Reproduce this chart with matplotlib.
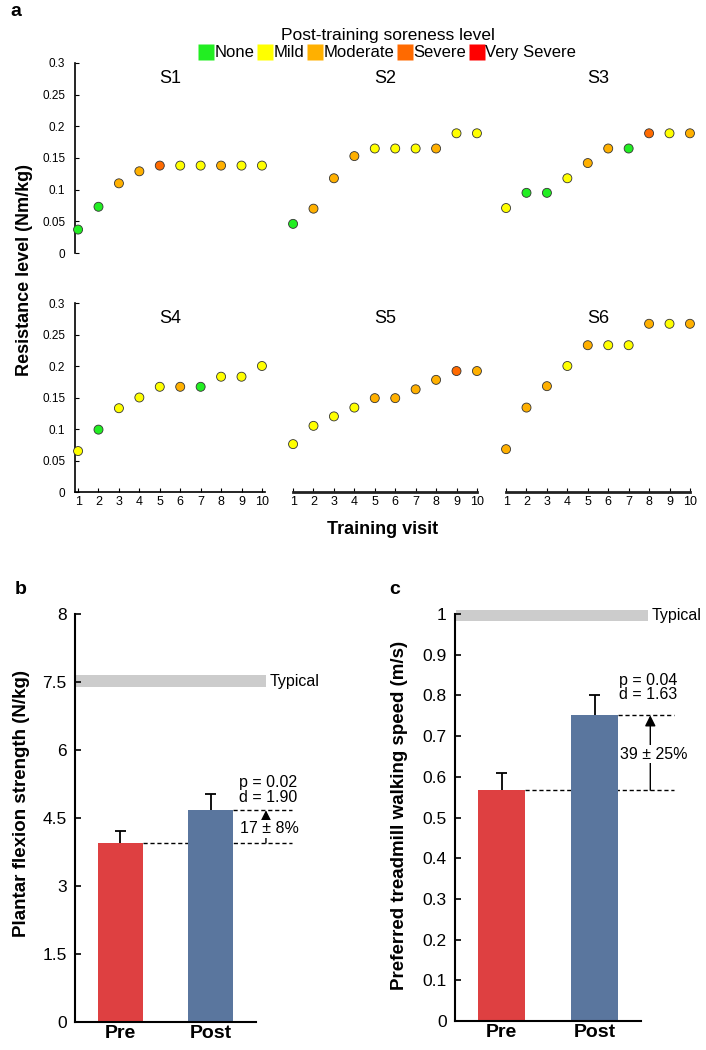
"""
Resistance progression per participant plus pre/post strength and walking speed.
"""
import matplotlib.pyplot as plt
from matplotlib.lines import Line2D
import numpy as np


################################################################################
# SETUP
################################################################################

plt.rcParams["font.family"] = ["Liberation Sans", "DejaVu Sans"]

visits = list(range(1, 11))
subjects = ["S1", "S2", "S3", "S4", "S5", "S6"]

# Resistance level (Nm/kg) per training visit.
s1_res = [0.037, 0.073, 0.110, 0.129, 0.138, 0.138, 0.138, 0.138, 0.138, 0.138]
s2_res = [0.046, 0.070, 0.118, 0.153, 0.165, 0.165, 0.165, 0.165, 0.189, 0.189]
s3_res = [0.071, 0.095, 0.095, 0.118, 0.142, 0.165, 0.165, 0.189, 0.189, 0.189]
s4_res = [0.065, 0.099, 0.133, 0.150, 0.167, 0.167, 0.167, 0.183, 0.183, 0.200]
s5_res = [0.076, 0.105, 0.120, 0.134, 0.149, 0.149, 0.163, 0.178, 0.192, 0.192]
s6_res = [0.068, 0.134, 0.168, 0.200, 0.233, 0.233, 0.233, 0.267, 0.267, 0.267]

# Post-training soreness (0=None ... 4=Very Severe).
s1_sore = [0, 0, 2, 2, 3, 1, 1, 2, 1, 1]
s2_sore = [0, 2, 2, 2, 1, 1, 1, 2, 1, 1]
s3_sore = [1, 0, 0, 1, 2, 2, 0, 3, 1, 2]
s4_sore = [1, 0, 1, 1, 1, 2, 0, 1, 1, 1]
s5_sore = [1, 1, 1, 1, 2, 2, 2, 2, 3, 2]
s6_sore = [2, 2, 2, 1, 2, 1, 1, 2, 1, 2]

sore_labels = ["None", "Mild", "Moderate", "Severe", "Very Severe"]
sore_colors = ["#22ee22", "#ffff00", "#ffb000", "#ff6a00", "#ff0000"]

res_all = [s1_res, s2_res, s3_res, s4_res, s5_res, s6_res]
sore_all = [s1_sore, s2_sore, s3_sore, s4_sore, s5_sore, s6_sore]

# Pre/post outcomes.
conditions = ["Pre", "Post"]
strength_mean = [3.95, 4.67]
strength_err = [0.27, 0.36]
strength_typical = [7.38, 7.65]
speed_mean = [0.567, 0.751]
speed_err = [0.043, 0.049]
speed_typical = [0.983, 1.01]
bar_colors = ["#de4041", "#5a769e"]


################################################################################
# PANEL A
################################################################################

fig = plt.figure(figsize=(7.06, 10.5), dpi=100)

W, H = 706, 1050
lefts = [75, 290, 503]
width = 190
rows = [(253, 190), (492, 189)]  # (bottom px, height px)

narrow = ["Liberation Sans Narrow", "Liberation Sans", "DejaVu Sans"]

for i, name in enumerate(subjects):
    r, c = divmod(i, 3)
    bot, hgt = rows[r]
    ax = fig.add_axes([lefts[c] / W, 1 - bot / H, width / W, hgt / H])
    colors = [sore_colors[s] for s in sore_all[i]]
    ax.scatter(visits, res_all[i], s=42, c=colors, edgecolors="#333333",
               linewidths=0.6, zorder=3, clip_on=False)
    ax.set_xlim(0.85, 10.15)
    ax.set_ylim(0, 0.3)
    ax.text(0.5, 0.92, name, transform=ax.transAxes, ha="center", va="center",
            fontsize=13, family=narrow)
    for s in ["top", "right"]:
        ax.spines[s].set_visible(False)
    if c == 0:
        ax.spines["left"].set_linewidth(1.2)
        ax.set_yticks(np.arange(0, 0.31, 0.05))
        ax.set_yticklabels(["0", "0.05", "0.1", "0.15", "0.2", "0.25", "0.3"],
                           family=narrow)
        ax.tick_params(axis="y", direction="in", length=3, labelsize=8.5, pad=7)
    else:
        ax.spines["left"].set_visible(False)
        ax.set_yticks([])
    if r == 1:
        ax.spines["bottom"].set_linewidth(2 if c > 0 else 1.2)
        ax.spines["bottom"].set_color("#222222" if c > 0 else "black")
        ax.set_xticks(visits)
        ax.set_xticklabels([str(v) for v in visits], family=narrow)
        ax.tick_params(axis="x", direction="in", length=3, labelsize=9, pad=3)
        if c > 0:
            ax.spines["bottom"].set_bounds(1, 10)
    else:
        ax.spines["bottom"].set_visible(False)
        ax.set_xticks([])

fig.text(25 / W, 1 - 270 / H, "Resistance level (Nm/kg)", rotation=90,
         ha="center", va="center", fontsize=13, fontweight="bold")
fig.text(383 / W, 1 - 530 / H, "Training visit", ha="center", va="center",
         fontsize=13, fontweight="bold")

handles = [Line2D([], [], marker="s", ls="none", markersize=12,
                  markerfacecolor=col, markeredgecolor="none")
           for col in sore_colors]
leg = fig.legend(handles, sore_labels, loc="center",
                 bbox_to_anchor=(388 / W, 1 - 44 / H), ncol=5, frameon=False,
                 handlelength=0.75, handletextpad=0.1, columnspacing=0.3,
                 fontsize=12, title="Post-training soreness level",
                 title_fontsize=12.5, borderpad=0.2, labelspacing=0.2)
leg._legend_box.sep = 2

fig.text(10 / W, 1 - 12 / H, "a", fontsize=14, fontweight="bold",
         ha="left", va="center")


################################################################################
# PANELS B AND C
################################################################################

def bar_panel(rect, means, errs, typical, ylim, yticks, yticklabels, ylabel,
              p_txt, pct_txt, xs):
    ax = fig.add_axes(rect)
    x = np.arange(len(means))
    ax.bar(x, means, width=0.5, color=bar_colors, zorder=2)
    cap = 0.06
    for xi, m, e in zip(x, means, errs):
        ax.vlines(xi, m, m + e, color="black", lw=1.3, zorder=1)
        ax.hlines(m + e, xi - cap, xi + cap, color="black", lw=1.3, zorder=1)
    ax.set_xlim(-0.5, 1.5)
    ax.set_ylim(*ylim)
    ax.set_yticks(yticks)
    ax.set_yticklabels(yticklabels)
    ax.set_xticks(x)
    ax.set_xticklabels(conditions, fontsize=14, fontweight="bold")
    ax.tick_params(axis="both", direction="in", length=4, width=1.2)
    ax.tick_params(axis="y", labelsize=12.5, pad=6)
    ax.tick_params(axis="x", pad=2)
    for s in ["top", "right"]:
        ax.spines[s].set_visible(False)
    for s in ["left", "bottom"]:
        ax.spines[s].set_linewidth(1.5)
    ax.set_ylabel(ylabel, fontsize=13.5, fontweight="bold")

    # Typical band.
    ax.fill_between([-0.49, xs["band"]], typical[0], typical[1],
                    color="#cccccc", lw=0, clip_on=False, zorder=1)
    ax.text(xs["band"] + 0.04, np.mean(typical), "Typical", fontsize=11.5,
            ha="left", va="center")

    # Change annotation.
    ax.plot([0.25, xs["dash"]], [means[0], means[0]], "--", color="black",
            lw=1, dashes=(3, 2), clip_on=False, zorder=1)
    ax.plot([1.25, xs["dash"]], [means[1], means[1]], "--", color="black",
            lw=1, dashes=(3, 2), clip_on=False, zorder=1)
    ax.annotate("", xy=(xs["arrow"], means[1]), xytext=(xs["arrow"], means[0]),
                arrowprops=dict(arrowstyle="-|>", color="black", lw=1,
                                mutation_scale=16, shrinkA=0, shrinkB=0),
                annotation_clip=False)
    ax.text(xs["arrow"] + 0.04, xs["pct_y"], pct_txt, fontsize=11.5,
            ha="center", va="center", zorder=4,
            bbox=dict(facecolor="white", edgecolor="none", pad=1))
    ax.text(xs["p"], xs["p_y"], p_txt, fontsize=11.5, ha="left", va="center",
            linespacing=0.95)
    return ax


ax_b = bar_panel([75 / W, 1 - 1022 / H, 181 / W, 408 / H],
                 strength_mean, strength_err, strength_typical, (0, 9),
                 [0, 1.5, 3, 4.5, 6, 7.5, 9],
                 ["0", "1.5", "3", "4.5", "6", "7.5", "8"],
                 "Plantar flexion strength (N/kg)",
                 "p = 0.02\nd = 1.90", "17 ± 8%",
                 dict(band=1.61, dash=1.9, arrow=1.61, pct_y=4.26,
                      p=1.31, p_y=5.12))
ax_b.yaxis.set_label_coords(-0.25, 0.535)

ax_c = bar_panel([455 / W, 1 - 1021 / H, 186 / W, 407 / H],
                 speed_mean, speed_err, speed_typical, (0, 1),
                 np.round(np.arange(0, 1.01, 0.1), 1),
                 ["0", "0.1", "0.2", "0.3", "0.4", "0.5", "0.6", "0.7", "0.8",
                  "0.9", "1"],
                 "Preferred treadmill walking speed (m/s)",
                 "p = 0.04\nd = 1.63", "39 ± 25%",
                 dict(band=1.575, dash=1.86, arrow=1.6, pct_y=0.656,
                      p=1.26, p_y=0.82))
ax_c.yaxis.set_label_coords(-0.25, 0.505)

fig.text(15 / W, 1 - 590 / H, "b", fontsize=14, fontweight="bold",
         ha="left", va="center")
fig.text(389 / W, 1 - 590 / H, "c", fontsize=14, fontweight="bold",
         ha="left", va="center")


################################################################################
# EXPORT
################################################################################

fig.savefig("out.png", dpi=100)
